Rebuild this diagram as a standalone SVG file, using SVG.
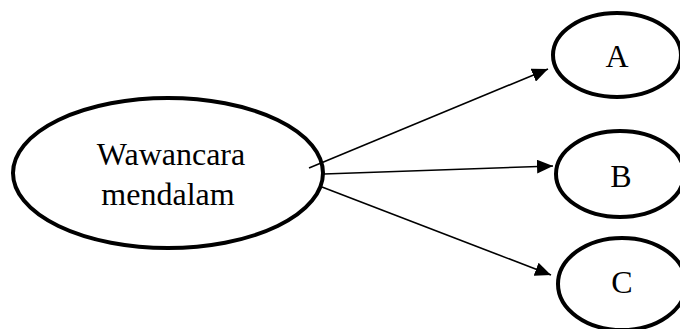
<svg xmlns="http://www.w3.org/2000/svg" width="680" height="329" viewBox="0 0 680 329">
<style>
.node{fill:#fff;stroke:#000;stroke-width:4}
.lbl{font-family:"Liberation Serif","Times New Roman",serif;font-size:32px;fill:#000;text-anchor:middle}
.edge{stroke:#000;stroke-width:1.6;fill:none;marker-end:url(#ah)}
</style>
<defs>
<marker id="ah" markerUnits="userSpaceOnUse" markerWidth="18" markerHeight="14" refX="16" refY="7" orient="auto">
<path d="M0,0 L16,7 L0,14 Z" fill="#000"/>
</marker>
</defs>
<rect width="680" height="329" fill="#fff"/>
<g id="node-main">
<ellipse class="node" cx="168" cy="173" rx="155" ry="75"/>
<text class="lbl" x="171" y="165">Wawancara</text>
<text class="lbl" x="168" y="205">mendalam</text>
</g>
<g id="connectors">
<line class="edge" x1="309" y1="168" x2="548" y2="69"/>
<line class="edge" x1="324" y1="174" x2="553" y2="166"/>
<line class="edge" x1="322" y1="187" x2="551" y2="275"/>
</g>
<g id="node-A">
<ellipse class="node" cx="617" cy="55" rx="64" ry="42"/>
<text class="lbl" x="617" y="67">A</text>
</g>
<g id="node-B">
<ellipse class="node" cx="620" cy="174" rx="64" ry="43"/>
<text class="lbl" x="621" y="187">B</text>
</g>
<g id="node-C">
<ellipse class="node" cx="622" cy="284" rx="64" ry="46"/>
<text class="lbl" x="622" y="293">C</text>
</g>
</svg>
